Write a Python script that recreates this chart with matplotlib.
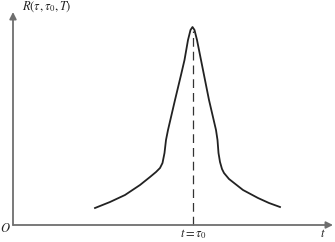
import matplotlib.pyplot as plt

# curve (t, R) in pixel-like units, origin at axis corner
t_vals = [82, 97, 112, 127, 137, 143, 147, 149.5, 151.5, 153, 155, 162, 168, 171.5,
          175, 177.5, 179.5, 181.5, 184, 188, 191, 196, 203, 204.5, 205.5, 207,
          209, 211, 216, 230, 245, 256, 267]
R_vals = [17, 23, 30, 40, 48, 53, 57, 62, 72, 85, 95, 125, 150, 165,
          185, 195, 198, 195, 185, 165, 150, 125, 95, 85, 72, 63,
          56, 52, 46, 35, 27, 22, 18]
t0 = 180
R_peak = 198

plt.rcParams['font.family'] = ['Liberation Serif', 'DejaVu Serif']
plt.rcParams['mathtext.fontset'] = 'stix'
fig = plt.figure(figsize=(3.35, 2.42), dpi=100)
ax = fig.add_axes([0, 0, 1, 1])
ax.set_xlim(-13, 322)
ax.set_ylim(-17, 225)
ax.axis('off')

axis_col = '#6e6e6e'
ax.annotate('', xy=(320, 0), xytext=(0, 0),
            arrowprops=dict(arrowstyle='-|>', color=axis_col, lw=1.3,
                            mutation_scale=10, shrinkA=0, shrinkB=0))
ax.annotate('', xy=(0, 213), xytext=(0, 0),
            arrowprops=dict(arrowstyle='-|>', color=axis_col, lw=1.3,
                            mutation_scale=10, shrinkA=0, shrinkB=0))

ax.plot(t_vals, R_vals, color='#222222', lw=1.3, solid_joinstyle='round')
ax.plot([t0, t0], [0, R_peak - 4], color='#333333', lw=0.9, dashes=(7, 4))

ax.text(9, 218, r'$R(\tau,\tau_0,T)$', fontsize=9, ha='left', va='center',
        color='#222222')
ax.text(-8, -4, r'$O$', fontsize=9, ha='center', va='center', color='#222222')
ax.text(310, -9, r'$t$', fontsize=9, ha='center', va='center', color='#222222')
ax.text(t0, -9, r'$t=\tau_0$', fontsize=9, ha='center', va='center',
        color='#222222')

fig.savefig('out.png', dpi=100)
